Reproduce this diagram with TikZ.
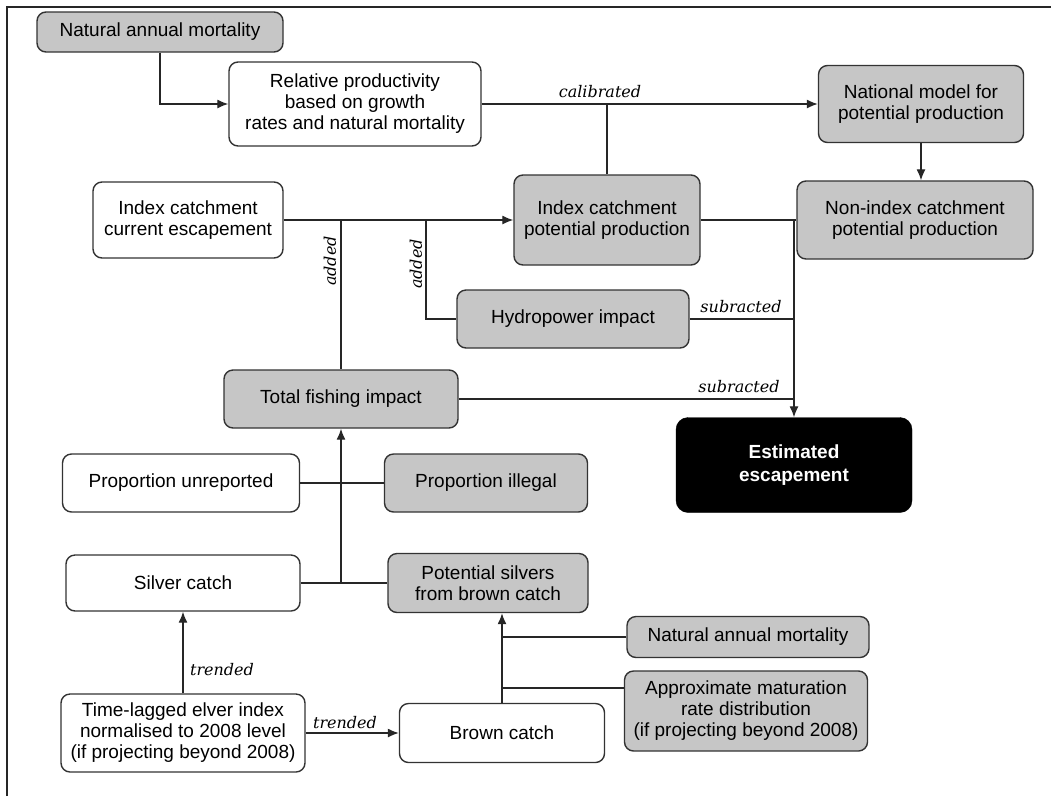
\documentclass[tikz,border=0pt]{standalone}
\usepackage{fontspec}
\setmainfont{Liberation Sans}
\newfontfamily\lblfont{DejaVu Serif}
\usetikzlibrary{arrows.meta}
\begin{document}
\begin{tikzpicture}[x=1pt,y=-1pt,
    box/.style={draw=black!80, line width=1.4pt, rounded corners=9pt, fill=white,
      align=center, inner sep=0pt, font=\fontsize{19}{21}\selectfont},
    greybox/.style={box, fill=gray!45},
    conn/.style={line width=1.3pt, black!85},
    arr/.style={conn, -{Latex[length=11pt,width=9pt]}},
    lbl/.style={font=\lblfont\itshape\fontsize{16}{18}\selectfont, inner sep=0pt}]
    \useasboundingbox (0,0) rectangle (1051,796);
    \draw [line width=1.5pt, black!85] (7,796) -- (7,7) -- (1051,7);

    % inputs for productivity
    \node[greybox, minimum width=246pt, minimum height=40pt] (nam1) at (160,32) {Natural annual mortality};
    \node[box, minimum width=252pt, minimum height=84pt] (relprod) at (355,104)
      {Relative productivity\\based on growth\\rates and natural mortality};
    \node[greybox, minimum width=205pt, minimum height=77pt] (natmodel) at (921,104)
      {National model for\\potential production};
    \node[greybox, minimum width=236pt, minimum height=78pt] (nonindex) at (915,220)
      {Non-index catchment\\potential production};
    \node[greybox, minimum width=186pt, minimum height=90pt] (indexpot) at (607,220)
      {Index catchment\\potential production};
    \node[box, minimum width=190pt, minimum height=76pt] (indexcur) at (188,220)
      {Index catchment\\current escapement};
    \node[greybox, minimum width=232pt, minimum height=58pt] (hydro) at (573,319) {Hydropower impact};
    \node[greybox, minimum width=234pt, minimum height=58pt] (totfish) at (341,399) {Total fishing impact};
    \node[draw=black, fill=black, rounded corners=12pt, text=white, align=center, inner sep=0pt,
      font=\bfseries\fontsize{19}{23}\selectfont, minimum width=236pt, minimum height=95pt]
      (estesc) at (794,465) {Estimated\\escapement};

    % fishing
    \node[box, minimum width=237pt, minimum height=58pt] (propunrep) at (181,483) {Proportion unreported};
    \node[greybox, minimum width=203pt, minimum height=58pt] (propill) at (486,483) {Proportion illegal};
    \node[box, minimum width=234pt, minimum height=56pt] (silver) at (183,583) {Silver catch};
    \node[greybox, minimum width=200pt, minimum height=59pt] (potsilv) at (488,583)
      {Potential silvers\\from brown catch};
    \node[greybox, minimum width=242pt, minimum height=41pt] (nam2) at (748,637) {Natural annual mortality};
    \node[greybox, minimum width=243pt, minimum height=80pt] (approx) at (746,711)
      {Approximate maturation\\rate distribution\\(if projecting beyond 2008)};
    \node[box, minimum width=244pt, minimum height=78pt] (elver) at (183,733)
      {Time-lagged elver index\\normalised to 2008 level\\(if projecting beyond 2008)};
    \node[box, minimum width=205pt, minimum height=59pt] (brown) at (502,733) {Brown catch};

    % junctions
    \coordinate (ja) at (totfish.north |- indexcur.east);
    \coordinate (jb) at (426,220);
    \coordinate (jc) at (estesc.north |- indexpot.east);
    \coordinate (jd) at (totfish.south |- silver.east);
    \coordinate (je) at (brown.north |- 0,688);

    \draw[arr] (nam1.south) |- (relprod.west);
    \draw[arr] (relprod.east) -- (natmodel.west);
    \draw[conn] (indexpot.north) -- (indexpot.north |- relprod.east);
    \node[lbl] (lcal) at (600,92) {calibrated};
    \draw[arr] (natmodel.south) -- (natmodel.south |- nonindex.north);

    \draw[arr] (indexcur.east) -- (indexpot.west);
    \draw[conn] (ja) -- (totfish.north);
    \node[lbl, rotate=90] (ladd1) at (330,261) {added};
    \draw[conn] (jb) |- (hydro.west);
    \node[lbl, rotate=90] (ladd2) at (416,264) {added};

    \draw[conn] (indexpot.east) -- (nonindex.west);
    \draw[arr] (jc) -- (estesc.north);
    \draw[conn] (hydro.east) -- (hydro.east -| jc);
    \node[lbl] (lsub1) at (741,307) {subracted};
    \draw[conn] (totfish.east) -- (totfish.east -| jc);
    \node[lbl] (lsub2) at (739,387) {subracted};

    \draw[conn] (propunrep.east) -- (propill.west);
    \draw[conn] (silver.east) -- (potsilv.west);
    \draw[arr] (jd) -- (totfish.south);

    \draw[arr] (elver.north) -- (silver.south);
    \node[lbl] (ltr1) at (222,670) {trended};
    \draw[arr] (elver.east) -- (brown.west);
    \node[lbl] (ltr2) at (345,723) {trended};

    \draw[arr] (brown.north) -- (brown.north |- potsilv.south);
    \draw[conn] (nam2.west) -- (nam2.west -| brown.north);
    \draw[conn] (je) -- (je -| approx.west);
\end{tikzpicture}
\end{document}
